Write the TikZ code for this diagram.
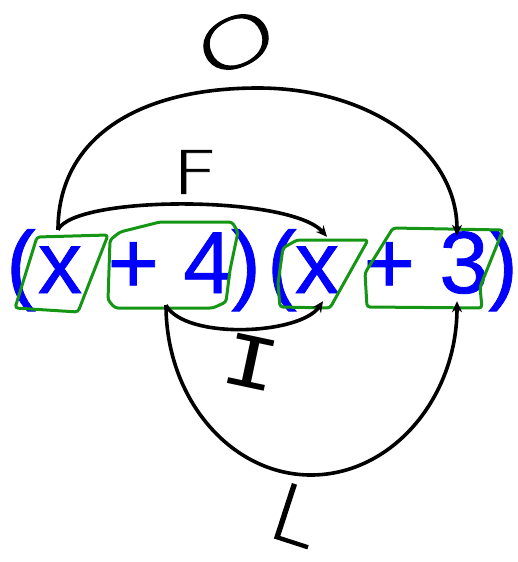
\documentclass[tikz,border=0pt]{standalone}
\usepackage{fontspec}
\setmainfont{Liberation Sans}
\newfontfamily\termfont{Liberation Sans}[FakeBold=0.9]
\newfontfamily\handfont{DejaVu Sans ExtraLight}[FakeBold=1.5]
\newfontfamily\handmono{DejaVu Sans Mono}
\usetikzlibrary{arrows.meta}
\definecolor{termblue}{RGB}{0,0,255}
\definecolor{boxgreen}{RGB}{20,150,20}
\tikzset{
  term/.style={text=termblue, anchor=base, inner sep=0pt, text height=63pt, text depth=18pt, font=\termfont\fontsize{88}{100}\selectfont},
  termbox/.style={draw=boxgreen, line width=3pt, rounded corners=3pt, line join=round},
  pass/.style={draw=black, line width=3.6pt, -{Stealth[length=11pt,width=10pt]}},
  letter/.style={font=\handfont\fontsize{70}{80}\selectfont, inner sep=0pt, transform shape}
}

\begin{document}
\begin{tikzpicture}[x=1pt, y=-1pt]
  \useasboundingbox (0,0) rectangle (518,562);

  % the two factors
  \node[term] (lpA) at (21,293) {(};
  \node[term] (xA) at (60,293) {x};
  \node[term] (cA) at (170,293) {+ 4};
  \node[term] (rpA) at (246,293) {)};
  \node[term] (lpB) at (282,293) {(};
  \node[term] (xB) at (317,293) {x};
  \node[term] (cB) at (426,293) {+ 3};
  \node[term] (rpB) at (503,293) {)};

  % hand drawn boxes
  \draw[termbox] (37,237) -- (108,235) -- (78,312) -- (15,308) -- cycle;
  \draw[termbox] (110,240) -- (120,232) -- (160,222) -- (232,222) -- (238,232) -- (230,270) -- (226,302) -- (213,308) -- (115,308) -- (108,300) -- cycle;
  \draw[termbox] (283,248) -- (297,240) -- (368,240) -- (340,290) -- (330,308) -- (280,307) -- (278,283) -- cycle;
  \draw[termbox] (393,228) -- (503,230) -- (480,287) -- (482,308) -- (367,307) -- (365,273) -- cycle;

  % FOIL
  \draw[pass] ([xshift=-2pt]xA.north) .. controls (58,140) and (135,88) .. (258,88) .. controls (370,88) and (457,150) .. ([xshift=31pt,yshift=-6pt]cB.north);
  \draw[pass] ([xshift=-2pt]xA.north) .. controls (75,195) and (290,195) .. ([xshift=10pt,yshift=-7pt]xB.north);
  \draw[pass] ([xshift=-4pt,yshift=6pt]cA.south) .. controls (185,340) and (300,335) .. ([xshift=6pt,yshift=10pt]xB.south);
  \draw[pass] ([xshift=-4pt,yshift=6pt]cA.south) .. controls (166,399) and (231,475) .. (311,475) .. controls (391,475) and (457,399) .. ([xshift=31pt,yshift=10pt]cB.south);

  \node[letter, rotate=25, xscale=1.5, yscale=0.95] (labO) at (236,42) {O};
  \node[letter, xscale=1.15, yscale=0.85] (labF) at (195,172) {F};
  \node[letter, font=\handmono\fontsize{64}{70}\selectfont, rotate=-12, xscale=1.45, yscale=1.1] (labI) at (251,362) {I};
  \node[letter, rotate=-18, xscale=1.2, yscale=1.12] (labL) at (296,515) {L};
\end{tikzpicture}
\end{document}
